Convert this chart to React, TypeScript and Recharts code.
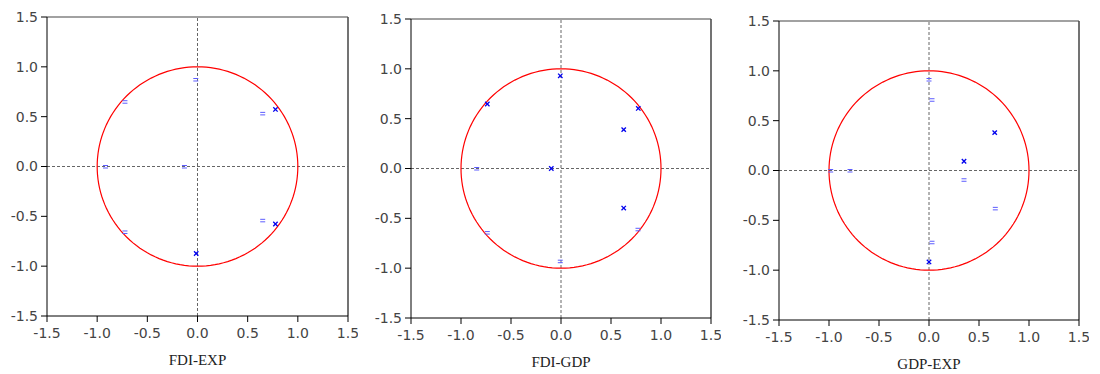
import React from 'react';
import { ScatterChart, Scatter, XAxis, YAxis, ReferenceLine } from 'recharts';

// Tick labels
const axisTicks = [-1.5, -1.0, -0.5, 0.0, 0.5, 1.0, 1.5];
const panelTitles = ['FDI-EXP', 'FDI-GDP', 'GDP-EXP'];

// Inverse roots — FDI-EXP
const fdiExpStrong = [
  { x: 0.777, y: 0.573 },
  { x: 0.777, y: -0.577 },
  { x: -0.013, y: -0.873 },
];
const fdiExpFaint = [
  { x: 0.65, y: 0.533 },
  { x: 0.65, y: -0.54 },
  { x: -0.017, y: 0.873 },
  { x: -0.723, y: 0.65 },
  { x: -0.723, y: -0.657 },
  { x: -0.917, y: 0 },
  { x: -0.13, y: 0 },
];

// Inverse roots — FDI-GDP
const fdiGdpStrong = [
  { x: -0.007, y: 0.93 },
  { x: -0.737, y: 0.647 },
  { x: 0.773, y: 0.603 },
  { x: 0.627, y: 0.39 },
  { x: -0.097, y: 0 },
  { x: 0.627, y: -0.397 },
];
const fdiGdpFaint = [
  { x: -0.843, y: 0 },
  { x: 0.77, y: -0.61 },
  { x: -0.737, y: -0.643 },
  { x: -0.007, y: -0.93 },
];

// Inverse roots — GDP-EXP
const gdpExpStrong = [
  { x: 0.657, y: 0.38 },
  { x: 0.35, y: 0.093 },
  { x: 0.0, y: -0.917 },
];
const gdpExpFaint = [
  { x: 0.0, y: 0.913 },
  { x: 0.03, y: 0.71 },
  { x: 0.35, y: -0.093 },
  { x: 0.663, y: -0.38 },
  { x: 0.03, y: -0.72 },
  { x: -0.983, y: 0 },
  { x: -0.79, y: 0 },
];

// Reference unit circle (geometric reference, not data)
const unitCircle = Array.from({ length: 145 }, (_, i) => {
  const a = (i / 144) * 2 * Math.PI;
  return { x: Math.cos(a), y: Math.sin(a) };
});

const StrongMark = (props: any) => {
  const { cx, cy } = props;
  if (cx == null || cy == null) return <g />;
  const s = 2.2;
  return (
    <g stroke="#0000ee" strokeWidth={1.3}>
      <line x1={cx - s} y1={cy - s} x2={cx + s} y2={cy + s} />
      <line x1={cx - s} y1={cy + s} x2={cx + s} y2={cy - s} />
    </g>
  );
};

const FaintMark = (props: any) => {
  const { cx, cy } = props;
  if (cx == null || cy == null) return <g />;
  return (
    <g stroke="#5c5cff" strokeWidth={1}>
      <line x1={cx - 2.5} y1={cy - 1} x2={cx + 2.5} y2={cy - 1} />
      <line x1={cx - 2.5} y1={cy + 1.5} x2={cx + 2.5} y2={cy + 1.5} />
    </g>
  );
};

const NoMark = () => <g />;

const tickStyle = { fontFamily: 'DejaVu Sans', fontSize: 14, fill: '#444' };
const fmt = (v: number) => v.toFixed(1);

type PanelProps = {
  title: string;
  strong: { x: number; y: number }[];
  faint: { x: number; y: number }[];
  L: number;
  R: number;
  T: number;
  B: number;
};

const Panel = ({ title, strong, faint, L, R, T, B }: PanelProps) => {
  const yw = 47;
  const width = R - L + yw + 10;
  const height = 374;
  const xh = height - B;
  return (
    <div style={{ position: 'absolute', left: L - yw, top: 0 }}>
      <ScatterChart width={width} height={height} margin={{ top: T, right: 10, bottom: 0, left: 0 }}>
        <XAxis
          type="number"
          dataKey="x"
          domain={[-1.5, 1.5]}
          ticks={axisTicks}
          tickFormatter={fmt}
          allowDataOverflow
          height={xh}
          tickSize={6}
          tickMargin={6}
          tick={tickStyle}
          axisLine={{ stroke: '#000', strokeWidth: 1 }}
          tickLine={{ stroke: '#000' }}
          label={{
            value: title,
            position: 'insideBottom',
            offset: xh - 49,
            style: { fontFamily: 'Liberation Serif', fontSize: 15, fill: '#222' },
          }}
        />
        <YAxis
          type="number"
          dataKey="y"
          domain={[-1.5, 1.5]}
          ticks={axisTicks}
          tickFormatter={fmt}
          allowDataOverflow
          width={yw}
          tickSize={6}
          tickMargin={3}
          tick={tickStyle}
          axisLine={{ stroke: '#000', strokeWidth: 1 }}
          tickLine={{ stroke: '#000' }}
        />
        <ReferenceLine y={1.5} stroke="#444" strokeWidth={1.2} />
        <ReferenceLine x={1.5} stroke="#444" strokeWidth={1.5} />
        <ReferenceLine y={0} stroke="#666" strokeDasharray="3 2" />
        <ReferenceLine x={0} stroke="#666" strokeDasharray="3 2" />
        <Scatter
          data={unitCircle}
          line={{ stroke: '#ff0000', strokeWidth: 1.2 }}
          lineType="joint"
          shape={NoMark}
          isAnimationActive={false}
        />
        <Scatter data={faint} shape={FaintMark} isAnimationActive={false} />
        <Scatter data={strong} shape={StrongMark} isAnimationActive={false} />
      </ScatterChart>
    </div>
  );
};

export default function App() {
  return (
    <div style={{ position: 'absolute', left: 0, top: 0, width: 1100, height: 374, background: '#fff' }}>
      <Panel title={panelTitles[0]} strong={fdiExpStrong} faint={fdiExpFaint} L={47} R={348} T={17} B={316} />
      <Panel title={panelTitles[1]} strong={fdiGdpStrong} faint={fdiGdpFaint} L={411} R={711} T={19} B={318} />
      <Panel title={panelTitles[2]} strong={gdpExpStrong} faint={gdpExpFaint} L={779} R={1079} T={21} B={320} />
    </div>
  );
}
